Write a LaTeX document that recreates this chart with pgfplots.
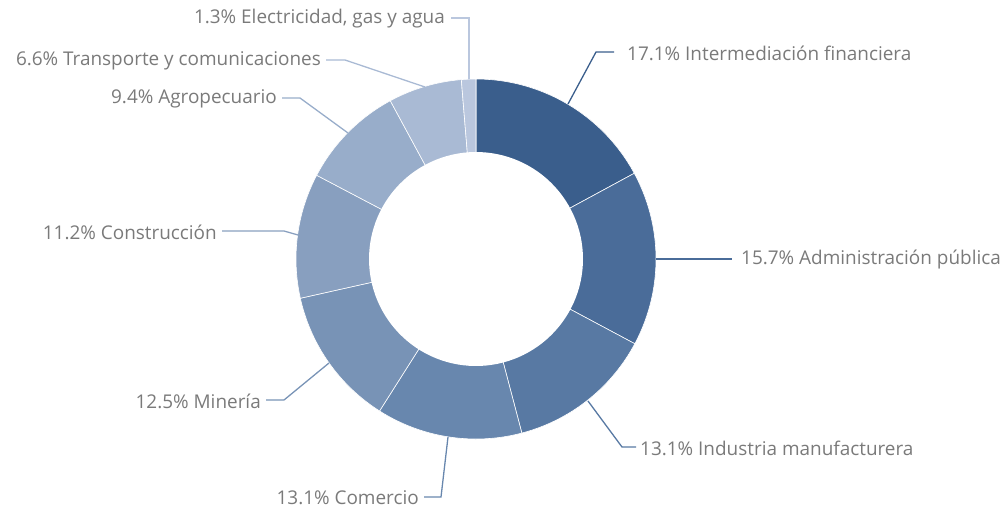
\documentclass[border=0pt]{standalone}
\usepackage{pgfplots}
\pgfplotsset{compat=1.18}
\usepackage{fontspec}
\setmainfont{Open Sans}
\definecolor{c1}{HTML}{3A5E8C}
\definecolor{c2}{HTML}{4A6C99}
\definecolor{c3}{HTML}{5879A3}
\definecolor{c4}{HTML}{6887AE}
\definecolor{c5}{HTML}{7893B6}
\definecolor{c6}{HTML}{889FBF}
\definecolor{c7}{HTML}{98ADCA}
\definecolor{c8}{HTML}{A9BAD4}
\definecolor{c9}{HTML}{BAC7DE}
\definecolor{lbl}{HTML}{7A7A7A}
\tikzset{lab/.style={font=\fontsize{19}{22}\selectfont, text=lbl, inner sep=0pt}}
% slice: start (cumulative %), share (%), colour
\newcommand{\slice}[3]{%
  \addplot[fill=#3, draw=white, line width=0.6pt, samples at={-1,0,1,...,60,61}, variable=\t]
  ({or(\t<0,\t>60) ? 476 : 476+180*cos(90-3.6*(#1+(#2)*\t/60))},
   {or(\t<0,\t>60) ? 259 : 259-180*sin(90-3.6*(#1+(#2)*\t/60))});
}
\begin{document}
\begin{tikzpicture}
\begin{axis}[
  scale only axis, width=1008bp, height=509bp,
  xmin=0, xmax=1008, ymin=0, ymax=509, y dir=reverse,
  hide axis, clip=false,
]
\slice{0}{17.1}{c1}
\slice{17.1}{15.7}{c2}
\slice{32.8}{13.1}{c3}
\slice{45.9}{13.1}{c4}
\slice{59.0}{12.5}{c5}
\slice{71.5}{11.2}{c6}
\slice{82.7}{9.4}{c7}
\slice{92.1}{6.6}{c8}
\slice{98.7}{1.3}{c9}
\addplot[fill=white, draw=none, samples=120, domain=0:360] ({476+107*cos(x)},{259-107*sin(x)});
% leader lines
\addplot[c1, line width=1.3pt] coordinates {(568,104) (596,52) (614,52)};
\addplot[c2, line width=1.3pt] coordinates {(656,259) (732,259)};
\addplot[c3, line width=1.3pt] coordinates {(588,401) (622,447) (636,447)};
\addplot[c4, line width=1.3pt] coordinates {(448,437) (441,497) (424,497)};
\addplot[c5, line width=1.3pt] coordinates {(329,363) (284,400) (266,400)};
\addplot[c6, line width=1.3pt] coordinates {(298,235) (284,231) (222,231)};
\addplot[c7, line width=1.3pt] coordinates {(348,133) (300,98) (282,98)};
\addplot[c8, line width=1.3pt] coordinates {(425,87) (345,60) (326,60)};
\addplot[c9, line width=1.3pt] coordinates {(469,79) (469,18) (451,18)};
% labels
\node[lab, anchor=west] at (axis cs:627,53) {17.1\% Intermediación financiera};
\node[lab, anchor=west] at (axis cs:741,260) {15.7\% Administración pública};
\node[lab, anchor=west] at (axis cs:640,448) {13.1\% Industria manufacturera};
\node[lab, anchor=east] at (axis cs:419,498) {13.1\% Comercio};
\node[lab, anchor=east] at (axis cs:261,401) {12.5\% Minería};
\node[lab, anchor=east] at (axis cs:217,232) {11.2\% Construcción};
\node[lab, anchor=east] at (axis cs:277,99) {9.4\% Agropecuario};
\node[lab, anchor=east] at (axis cs:321,61) {6.6\% Transporte y comunicaciones};
\node[lab, anchor=east] at (axis cs:445,19) {1.3\% Electricidad, gas y agua};
\path (rel axis cs:0,0) rectangle (rel axis cs:1,1);
\end{axis}
\end{tikzpicture}
\end{document}
